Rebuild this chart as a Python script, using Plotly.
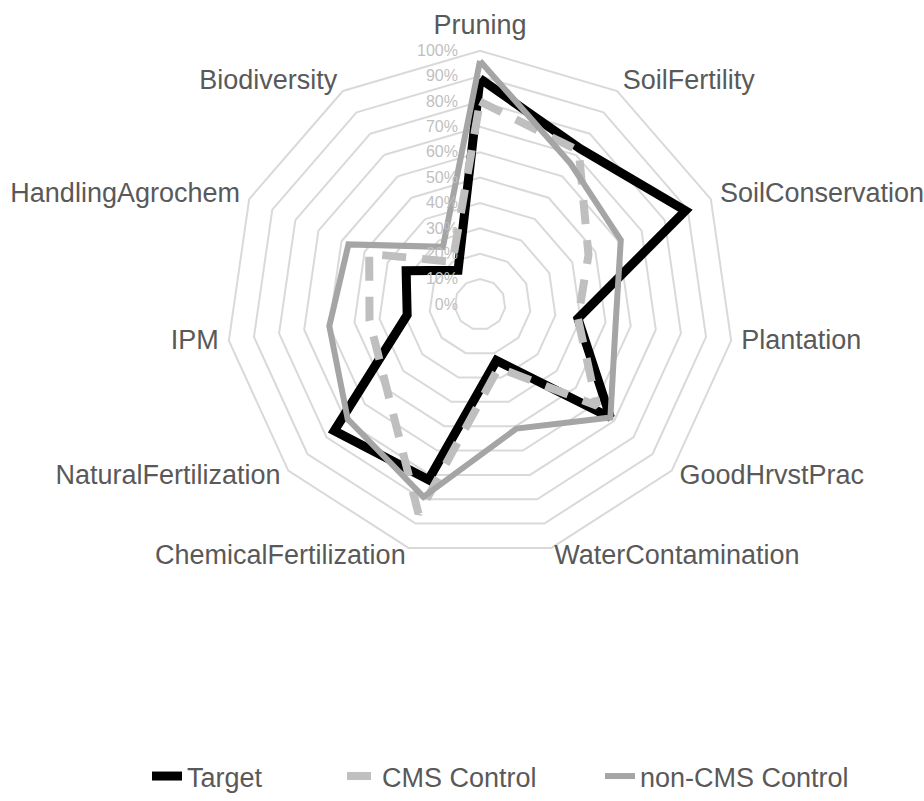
import plotly.graph_objects as go

categories = ["Pruning", "SoilFertility", "SoilConservation", "Plantation", "GoodHrvstPrac",
              "WaterContamination", "ChemicalFertilization", "NaturalFertilization", "IPM",
              "HandlingAgrochem", "Biodiversity"]
target = [0.89, 0.73, 0.89, 0.39, 0.68, 0.23, 0.72, 0.76, 0.29, 0.32, 0.16]
cms_control = [0.80, 0.72, 0.47, 0.39, 0.61, 0.26, 0.86, 0.49, 0.44, 0.48, 0.20]
non_cms_control = [0.96, 0.66, 0.61, 0.54, 0.68, 0.51, 0.79, 0.69, 0.60, 0.57, 0.27]
radial_ticks = [0, 0.1, 0.2, 0.3, 0.4, 0.5, 0.6, 0.7, 0.8, 0.9, 1.0]

FONT = "Liberation Sans, Arial, sans-serif"
R_MAX = 1.04  # radial range end; category labels sit on it, just outside the 100% ring
label_positions = ["top center", "middle right", "middle right", "middle right", "middle right",
                   "middle right", "middle left", "middle left", "middle left", "middle left",
                   "middle left"]

# polar area: centre (480, 306) px, 100% ring radius 255 px
CX, CY, R100 = 480, 306, 255
HALF = R100 * R_MAX
W, H = 924, 801


def closed(vals):
    return list(vals) + [vals[0]]


fig = go.Figure()
fig.add_trace(go.Scatterpolar(
    r=closed(target), theta=closed(categories), name="Target", mode="lines",
    line=dict(color="#000000", width=9), legendwidth=150))
fig.add_trace(go.Scatterpolar(
    r=closed(cms_control), theta=closed(categories), name="CMS Control", mode="lines",
    line=dict(color="#BFBFBF", width=8, dash="24px,16px"), legendwidth=213))
fig.add_trace(go.Scatterpolar(
    r=closed(non_cms_control), theta=closed(categories), name="non-CMS Control", mode="lines",
    line=dict(color="#A5A5A5", width=6)))
# category labels, placed through the polar scale just outside the outer ring
fig.add_trace(go.Scatterpolar(
    r=[R_MAX] * len(categories), theta=categories, mode="text", text=categories,
    textposition=label_positions, cliponaxis=False, showlegend=False, hoverinfo="skip",
    textfont=dict(size=27, color="#595959", family=FONT)))

fig.update_layout(
    width=W, height=H,
    margin=dict(l=0, r=0, t=0, b=0),
    paper_bgcolor="white", plot_bgcolor="white",
    font=dict(family=FONT, color="#595959", size=27),
    polar=dict(
        domain=dict(x=[(CX - HALF) / W, (CX + HALF) / W],
                    y=[1 - (CY + HALF) / H, 1 - (CY - HALF) / H]),
        bgcolor="rgba(0,0,0,0)",
        gridshape="linear",
        angularaxis=dict(
            direction="clockwise", rotation=90,
            showgrid=False, showline=False,
            ticks="", showticklabels=False,
        ),
        radialaxis=dict(
            range=[0, R_MAX], angle=90, side="counterclockwise",
            tickvals=radial_ticks, tickformat=".0%",
            showline=False, ticks="outside", ticklen=16, tickcolor="rgba(0,0,0,0)",
            gridcolor="#D9D9D9", gridwidth=1.5,
            tickfont=dict(size=16, color="#BFBFBF", family=FONT),
            tickangle=90,
        ),
    ),
    legend=dict(
        orientation="h", x=147 / W, xanchor="left", y=-0.005, yanchor="bottom",
        font=dict(size=27, color="#595959", family=FONT),
        bgcolor="rgba(0,0,0,0)",
    ),
    showlegend=True,
)

fig.write_html("out.html", config={"displayModeBar": False},
               post_script="document.body.style.margin='0';document.body.style.overflow='hidden';")
